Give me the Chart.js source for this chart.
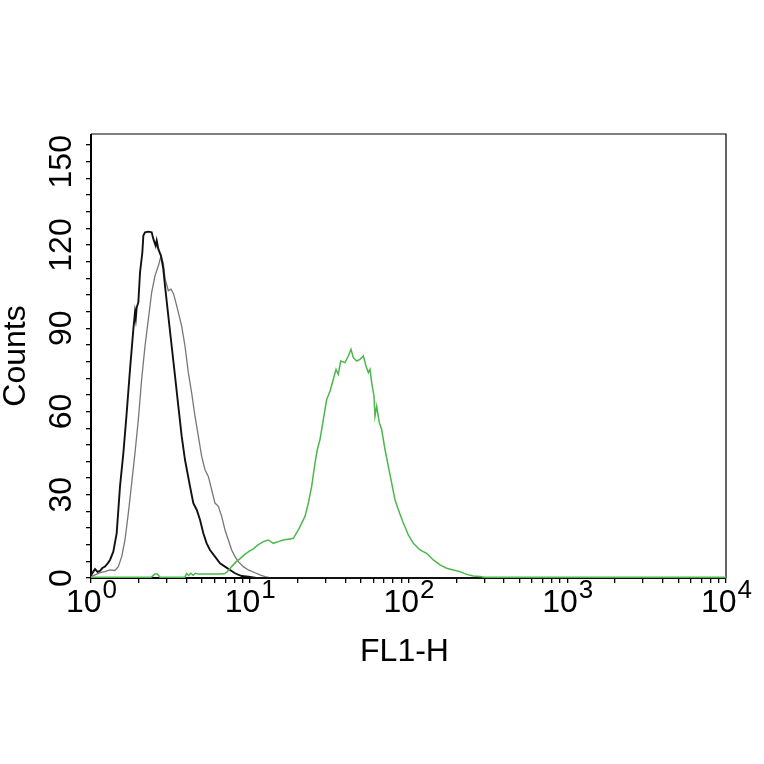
<!DOCTYPE html>
<html>
<head>
<meta charset="utf-8">
<style>
html,body{margin:0;padding:0;background:#fff;}
canvas{display:block;}
</style>
<script src="https://cdn.jsdelivr.net/npm/chart.js@4.4.0/dist/chart.umd.min.js"></script>
</head>
<body>
<canvas id="c" width="764" height="764"></canvas>
<script>
// ---- data ----
const xDecades = [1, 10, 100, 1000, 10000];
const xExponents = ["0", "1", "2", "3", "4"];
const yTickLabels = [0, 30, 60, 90, 120, 150];

const blackX = [1.00,1.034,1.06,1.10,1.14,1.18,1.225,1.27,1.317,1.382,1.451,1.523,1.599,1.678,1.761,1.848,1.893,1.915,1.940,1.987,2.036,2.106,2.137,2.189,2.30,2.411,2.470,2.555,2.593,2.656,2.760,2.855,2.925,3.070,3.222,3.382,3.549,3.725,3.909,4.204,4.412,4.631,4.860,5.100,5.353,5.617,6.040,6.495,6.984,7.509,8.074,8.894,9.797,11.0,10000];
const blackY = [1.0,2.3,3.2,2.2,2.6,3.6,4.1,5.2,6.5,9.5,16.1,33,45,59.5,75.2,89.6,95.7,93.5,97.5,99.3,110.1,117.3,123.4,124.6,124.8,124.6,122.2,119.7,121.6,118.5,116.1,111.3,105.3,94.4,83.6,72.8,61.9,51.1,42.6,33,27,24.6,21,16.1,12.5,10.1,7.7,5.3,4.1,2.9,1.7,0.7,0.5,0,0];

const grayX = [1.00,1.06,1.14,1.225,1.317,1.416,1.486,1.561,1.637,1.719,1.804,1.893,1.987,2.085,2.189,2.297,2.411,2.530,2.656,2.760,2.855,2.925,3.070,3.191,3.301,3.382,3.549,3.725,3.909,4.104,4.306,4.519,4.744,4.979,5.226,5.483,5.756,6.040,6.341,6.654,6.984,7.330,7.693,8.074,8.474,9.112,9.797,10.79,11.60,12.48,13.5,10000];
const grayY = [0.5,1.1,1.9,2.3,2.9,2.7,4.1,7.7,13.7,23.4,34.2,45.1,57.1,71.6,83.6,93.2,102.9,108.9,112.5,116,113.5,108,103.5,104.1,102.5,100.5,95.7,90.8,83.6,74,66.7,58.3,51.1,43.8,39,36.6,31.8,27,25.8,22.2,17.3,13.7,10.1,7.7,5.9,4.1,2.9,1.9,1.1,0.5,0,0];

const greenX = [1.00,2.40,2.52,2.62,2.72,3.90,4.00,4.12,4.25,4.40,4.55,4.75,5.50,6.30,6.90,7.15,7.69,8.20,8.70,9.30,10.0,10.53,11.33,12.18,13.09,14.08,15.14,16.27,17.50,18.82,20.23,21.23,22.28,23.39,24.55,25.76,26.65,27.70,29.07,30.51,32.03,33.62,34.94,36.14,37.39,39.81,41.78,43.43,44.93,47.15,49.49,51.94,53.99,55.85,57.22,58.61,60.63,61.52,63.03,65.51,67.76,71.12,74.65,78.35,82.22,86.30,92.79,99.77,107.3,118.1,130.1,143.3,157.9,173.9,191.6,211.0,232.4,256.1,282.1,300,10000];
const greenY = [0.3,0.3,1.4,1.4,0.3,0.3,1.6,0.9,1.7,1.0,1.7,1.4,1.4,1.4,1.5,2.0,4.1,5.8,7.0,8.5,9.8,10.5,12.0,13.1,13.7,12.5,13.1,13.7,14.0,14.3,17.3,19.8,22.2,27,33,41.4,46.3,49.9,57.1,64.3,67.3,71.6,75.2,73.4,78.2,77.6,80,82.4,79.4,78.2,78.8,80,76.4,74,75.2,70.4,65.5,58.3,61.9,55.9,53.5,46.3,40.2,34.2,28.2,24.6,19.8,15.5,12.5,10.1,8.9,6.5,4.7,3.5,2.9,2.3,1.3,0.7,0.5,0.3,0.3];

const xTitle = "FL1-H";
const yTitle = "Counts";

function pts(xs, ys){ return xs.map((x,i)=>({x:x, y:ys[i]})); }

const FONT = '"Liberation Sans", Arial, Helvetica, sans-serif';

const deco = {
  id: 'deco',
  beforeDraw(chart){
    const ctx = chart.ctx;
    ctx.save();
    ctx.fillStyle = '#fff';
    ctx.fillRect(0,0,chart.width,chart.height);
    ctx.restore();
  },
  beforeDatasetsDraw(chart){
    const {ctx, chartArea:a} = chart;
    ctx.save();
    ctx.strokeStyle = '#000';
    ctx.lineWidth = 1.2;
    ctx.beginPath();
    ctx.moveTo(a.left, a.top); ctx.lineTo(a.right, a.top); ctx.lineTo(a.right, a.bottom);
    ctx.stroke();
    ctx.lineWidth = 2;
    ctx.beginPath();
    ctx.moveTo(a.left, a.top); ctx.lineTo(a.left, a.bottom); ctx.lineTo(a.right, a.bottom);
    ctx.stroke();
    ctx.restore();
  },
  afterDraw(chart){
    const {ctx, chartArea:a} = chart;
    const xs = chart.scales.x, ys = chart.scales.y;
    ctx.save();
    ctx.fillStyle = '#000';
    // x tick labels 10^n
    xDecades.forEach((v,i)=>{
      const px = xs.getPixelForValue(v);
      ctx.font = '32px ' + FONT;
      const wb = ctx.measureText('10').width;
      ctx.font = '26px ' + FONT;
      const we = ctx.measureText(xExponents[i]).width;
      const start = px - (wb + we)/2;
      ctx.textAlign = 'left';
      ctx.textBaseline = 'alphabetic';
      ctx.font = '32px ' + FONT;
      ctx.fillText('10', start, 612);
      ctx.font = '26px ' + FONT;
      ctx.fillText(xExponents[i], start + wb + 1, 598);
    });
    // y tick labels rotated
    ctx.font = '32px ' + FONT;
    ctx.textAlign = 'center';
    ctx.textBaseline = 'middle';
    yTickLabels.forEach(v=>{
      const py = ys.getPixelForValue(v);
      ctx.save();
      ctx.translate(62, py);
      ctx.rotate(-Math.PI/2);
      ctx.fillText(String(v), 0, 0);
      ctx.restore();
    });
    // axis titles
    ctx.textAlign = 'center';
    ctx.textBaseline = 'alphabetic';
    ctx.fillText(xTitle, (a.left + a.right)/2 - 4, 661);
    ctx.save();
    ctx.translate(16, (a.top + a.bottom)/2);
    ctx.rotate(-Math.PI/2);
    ctx.textBaseline = 'middle';
    ctx.fillText(yTitle, 0, 0);
    ctx.restore();
    ctx.restore();
  }
};

const lineDs = (label, data, color, w, order) => ({
  label, data, borderColor: color, borderWidth: w, pointRadius: 0,
  tension: 0, fill: false, clip: 3, order
});

new Chart(document.getElementById('c'), {
  type: 'line',
  data: {
    datasets: [
      lineDs('green', pts(greenX, greenY), '#4cb84c', 1.5, 0),
      lineDs('black', pts(blackX, blackY), '#111111', 1.9, 1),
      lineDs('gray', pts(grayX, grayY), '#777777', 1.3, 2)
    ]
  },
  options: {
    responsive: false,
    animation: false,
    devicePixelRatio: 1,
    layout: { padding: { left: 86, right: 38, top: 134, bottom: 181 } },
    plugins: { legend: { display: false }, tooltip: { enabled: false } },
    scales: {
      x: {
        type: 'logarithmic', min: 1, max: 10000, position: 'bottom',
        border: { display: false },
        grid: { drawOnChartArea: false, drawTicks: true, tickLength: 5, color: '#000', lineWidth: 1.3 },
        ticks: { display: false },
        afterBuildTicks(scale){
          const t = [];
          [1,10,100,1000].forEach(d=>{ for(let k=1;k<10;k++) t.push({value:d*k}); });
          t.push({value:10000});
          scale.ticks = t;
        }
      },
      y: {
        type: 'linear', min: 0, max: 160,
        border: { display: false },
        grid: { drawOnChartArea: false, drawTicks: true, tickLength: 5, color: '#000', lineWidth: 1.3 },
        ticks: { display: false },
        afterBuildTicks(scale){
          const t = [];
          for (let v = 0; v <= 156; v += 6) t.push({value:v});
          scale.ticks = t;
        }
      }
    }
  },
  plugins: [deco]
});
</script>
</body>
</html>
